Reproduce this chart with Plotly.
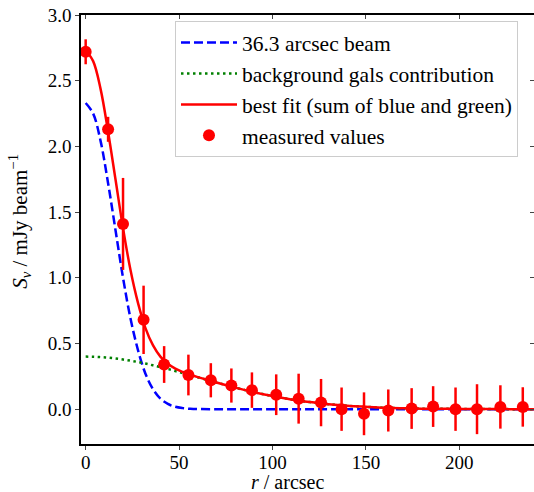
import plotly.graph_objects as go

# measured profile
r_data = [0, 12, 20, 31, 42, 55, 67, 78, 89, 102, 114, 126, 137, 149, 162, 174.5, 186, 198, 209.5, 222, 234]
s_data = [2.72, 2.13, 1.41, 0.68, 0.34, 0.26, 0.22, 0.18, 0.145, 0.11, 0.08, 0.05, 0.0, -0.035, -0.01,
          0.005, 0.02, 0.0, 0.0, 0.017, 0.017]
s_err = [0.095, 0.095, 0.35, 0.26, 0.14, 0.155, 0.13, 0.13, 0.135, 0.155, 0.19, 0.18, 0.165, 0.163,
         0.16, 0.155, 0.155, 0.165, 0.19, 0.165, 0.15]

# model curves
r_model = [0, 4, 8, 12, 16, 20, 24, 28, 32, 36, 40, 44, 48, 52, 56, 60, 70, 80, 90, 100, 110, 120,
           130, 140, 150, 160, 170, 180, 190, 200, 210, 220, 230, 240]
beam = [2.33, 2.25, 2.04, 1.72, 1.36, 1.00, 0.69, 0.45, 0.27, 0.153, 0.080, 0.040, 0.018, 0.008, 0.003,
        0.001, 0, 0, 0, 0, 0, 0, 0, 0, 0, 0, 0, 0, 0, 0, 0, 0, 0, 0]
background = [0.400, 0.399, 0.396, 0.392, 0.386, 0.378, 0.369, 0.359, 0.347, 0.334, 0.320, 0.306, 0.290,
              0.275, 0.259, 0.243, 0.203, 0.164, 0.130, 0.100, 0.074, 0.054, 0.038, 0.026, 0.018, 0.011,
              0.007, 0.004, 0.003, 0.002, 0.001, 0.001, 0.0, 0.0]
best_fit = [2.730, 2.649, 2.436, 2.112, 1.746, 1.378, 1.059, 0.809, 0.617, 0.487, 0.400, 0.346, 0.308,
            0.283, 0.262, 0.244, 0.203, 0.164, 0.130, 0.100, 0.074, 0.054, 0.038, 0.026, 0.018, 0.011,
            0.007, 0.004, 0.003, 0.002, 0.001, 0.001, 0.0, 0.0]

x_ticks = [0, 50, 100, 150, 200]
y_ticks = [0.0, 0.5, 1.0, 1.5, 2.0, 2.5, 3.0]
x_range = [-2.5, 240]
y_range = [-0.265, 3.0]
x_title = "<i>r</i> / arcsec"
y_title = "<i>S<sub>ν</sub></i> / mJy beam<sup>−1</sup>"

FONT = "Liberation Serif, DejaVu Serif, Times New Roman, serif"

fig = go.Figure()
fig.add_trace(go.Scatter(x=r_model, y=beam, mode="lines", name="36.3 arcsec beam",
                         line=dict(color="#0000ff", width=2.5, dash="9px,4px", shape="spline")))
fig.add_trace(go.Scatter(x=r_model, y=background, mode="lines", name="background gals contribution",
                         line=dict(color="#008000", width=2.5, dash="2.5px,3.5px", shape="spline")))
fig.add_trace(go.Scatter(x=r_model, y=best_fit, mode="lines", name="best fit (sum of blue and green)",
                         line=dict(color="#ff0000", width=2.5, shape="spline")))
fig.add_trace(go.Scatter(x=r_data, y=s_data, mode="markers", name="measured values",
                         marker=dict(color="#ff0000", size=12),
                         error_y=dict(type="data", array=s_err, color="#ff0000", thickness=2.5, width=0)))
# invisible trace for the mirrored (top/right) axes
fig.add_trace(go.Scatter(x=[None], y=[None], xaxis="x2", yaxis="y2", showlegend=False,
                         hoverinfo="skip"))

axis_font = dict(family=FONT, size=19, color="black")
fig.update_layout(
    width=534, height=492,
    margin=dict(l=81, r=0, t=15, b=48),
    paper_bgcolor="white", plot_bgcolor="white",
    font=dict(family=FONT, size=19, color="black"),
    xaxis=dict(range=x_range, tickvals=x_ticks, ticks="outside", ticklen=4, tickwidth=1.2,
               showline=True, linecolor="black", linewidth=1.5, showgrid=False, zeroline=False,
               tickfont=axis_font, ticklabelstandoff=-4),
    yaxis=dict(range=y_range, tickvals=y_ticks, tickformat=".1f", ticks="outside", ticklen=4,
               tickwidth=1.2, showline=True, linecolor="black", linewidth=1.5, showgrid=False,
               zeroline=False, tickfont=axis_font),
    xaxis2=dict(range=x_range, tickvals=x_ticks, overlaying="x", side="top", ticks="inside",
                ticklen=4, tickwidth=1.2, showticklabels=False, showline=True, linecolor="black",
                linewidth=1.5, showgrid=False, zeroline=False),
    yaxis2=dict(range=y_range, tickvals=y_ticks, overlaying="y", side="right", ticks="inside",
                ticklen=4, tickwidth=1.2, showticklabels=False, showline=False, showgrid=False,
                zeroline=False),
    legend=dict(x=0.2075, y=0.986, xanchor="left", yanchor="top", bgcolor="rgba(255,255,255,0.8)",
                bordercolor="#cccccc", borderwidth=1, itemwidth=56,
                font=dict(family=FONT, size=21.5)),
    showlegend=True,
    annotations=[
        dict(text=x_title, xref="paper", yref="paper", x=0.455, y=-0.088, xanchor="center",
             yanchor="middle", showarrow=False, font=dict(family=FONT, size=20)),
        dict(text=y_title, xref="paper", yref="paper", x=-0.135, y=0.52, xanchor="center",
             yanchor="middle", textangle=-90, showarrow=False, font=dict(family=FONT, size=21)),
    ],
)

fig.write_html("out.html", config={"displayModeBar": False},
               post_script="document.body.style.margin='0';")
